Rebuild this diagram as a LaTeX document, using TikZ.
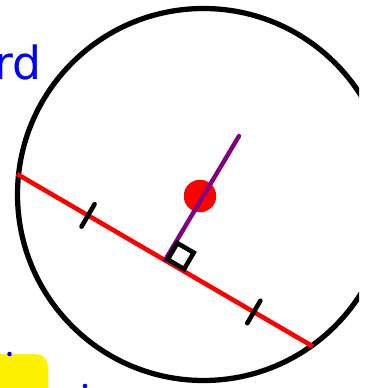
\documentclass[tikz,border=0pt]{standalone}
\usepackage{fontspec}
\setsansfont{DejaVu Sans}
\usetikzlibrary{calc}
\definecolor{bisectpurple}{RGB}{128,0,128}
\tikzset{
    circline/.style={line width=3pt},
    chordline/.style={red, line width=2.6pt},
    tickline/.style={line width=2.6pt, line cap=round},
    bisectline/.style={bisectpurple, line width=2.5pt, line cap=round},
    rightbox/.style={line width=2.6pt},
    centredot/.style={circle, fill=red, inner sep=0pt, minimum size=0.65cm},
    wordlab/.style={text=blue, font=\sffamily\fontsize{26}{30}\selectfont, inner sep=0pt}
}

\begin{document}
\begin{tikzpicture}[x=0.02cm, y=-0.02cm]
\useasboundingbox (0,0) rectangle (366,388);
\coordinate (O) at (203.5,194.5);
\coordinate (A) at (17,174);
\coordinate (B) at (313,346.5);
\coordinate (M) at ($(A)!0.5!(B)$);
\coordinate (P) at (239,136);

\fill[yellow, rounded corners=7pt] (-30,354) rectangle (48,410);
\fill[blue] (9.5,354) circle[radius=2.3];
\fill[blue] (85,386) circle[radius=2.3];
\node[wordlab, anchor=base east] (word) at (42,80) {rd};

\begin{scope}
\clip (0,0) rectangle (359,388);
\draw[circline] (O) circle[radius=186];
\end{scope}

\draw[chordline] (A) -- (B);
\foreach \t in {0.24,0.8} {
    \coordinate (T) at ($(A)!\t!(B)$);
    \draw[tickline] ($(T)!0.26cm!90:(B)$) -- ($(T)!0.26cm!-90:(B)$);
}
\node[centredot] (dot) at (200,196) {};
\draw[bisectline] (M) -- (P);
\begin{scope}[shift={(M)}, rotate=-30.2]
\draw[rightbox] (2,-2) -- (21,-2) -- (21,-21) -- (2,-21) -- cycle;
\end{scope}
\end{tikzpicture}
\end{document}
